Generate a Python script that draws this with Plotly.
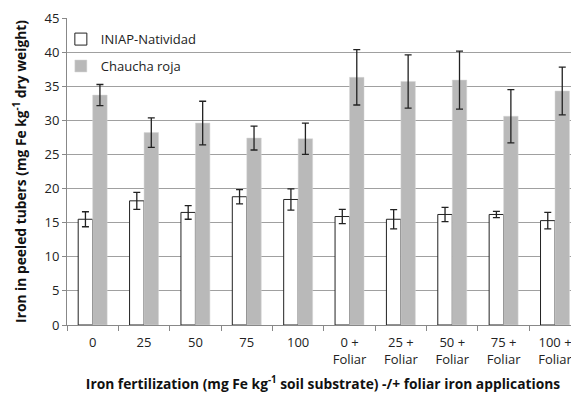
import plotly.graph_objects as go

categories = ["0", "25", "50", "75", "100", "0 +<br>Foliar", "25 +<br>Foliar",
              "50 +<br>Foliar", "75 +<br>Foliar", "100 +<br>Foliar"]
iniap = [15.5, 18.2, 16.5, 18.8, 18.4, 15.9, 15.5, 16.2, 16.2, 15.3]
iniap_err = [1.1, 1.25, 1.0, 1.05, 1.55, 1.05, 1.4, 1.05, 0.45, 1.2]
chaucha = [33.7, 28.2, 29.6, 27.4, 27.3, 36.3, 35.7, 35.9, 30.6, 34.3]
chaucha_err = [1.55, 2.15, 3.2, 1.75, 2.3, 4.05, 3.9, 4.25, 3.9, 3.5]
y_ticks = [0, 5, 10, 15, 20, 25, 30, 35, 40, 45]

FONT = "Open Sans"
fig = go.Figure()
fig.add_trace(go.Bar(
    x=categories, y=iniap, name="INIAP-Natividad", legendgroup="a",
    marker=dict(color="white", line=dict(color="#222222", width=1)),
    error_y=dict(type="data", array=iniap_err, color="#222222", thickness=1.3, width=3.5),
))
fig.add_trace(go.Bar(
    x=categories, y=chaucha, name="Chaucha roja", legendgroup="b",
    marker=dict(color="#b9b9b9", line=dict(color="#d6d6d6", width=0.5)),
    error_y=dict(type="data", array=chaucha_err, color="#222222", thickness=1.3, width=3.5),
))
# the page adds an 8px body margin, so the figure is sized/offset to compensate
fig.update_layout(
    width=571, height=385,
    margin=dict(l=59, r=0, t=10, b=68, autoexpand=False),
    paper_bgcolor="white", plot_bgcolor="white",
    bargap=0.436, bargroupgap=0,
    font=dict(family=FONT, size=13, color="#222222"),
    legend=dict(x=-0.012, y=0.98, xanchor="left", yanchor="top",
                bgcolor="rgba(0,0,0,0)", font=dict(size=13, color="#222222"),
                tracegroupgap=7, itemwidth=30),
    showlegend=True,
)
fig.update_xaxes(
    range=[-0.5, 9.467], tickson="boundaries", ticks="outside", ticklen=5,
    tickcolor="#888888", showline=True, linecolor="#888888", linewidth=1,
    showgrid=False, tickfont=dict(size=13, color="#222222"), automargin=False,
    ticklabelstandoff=5,
    title=dict(text="<b>Iron fertilization (mg Fe kg<sup>-1</sup> soil substrate) -/+ foliar iron applications</b>",
               font=dict(size=13.8, color="#111111"), standoff=14),
)
fig.update_yaxes(
    range=[0, 45], tickvals=y_ticks, ticks="outside", ticklen=4,
    tickcolor="#888888", showline=True, linecolor="#888888", linewidth=1,
    showgrid=True, gridcolor="#a0a0a0", gridwidth=1, zeroline=False,
    tickfont=dict(size=13, color="#222222"), automargin=False,
    title=dict(text="<b>Iron in peeled tubers (mg Fe kg<sup>-1</sup> dry weight)</b>",
               font=dict(size=13.8, color="#111111"), standoff=14),
)
fig.write_html("out.html")
